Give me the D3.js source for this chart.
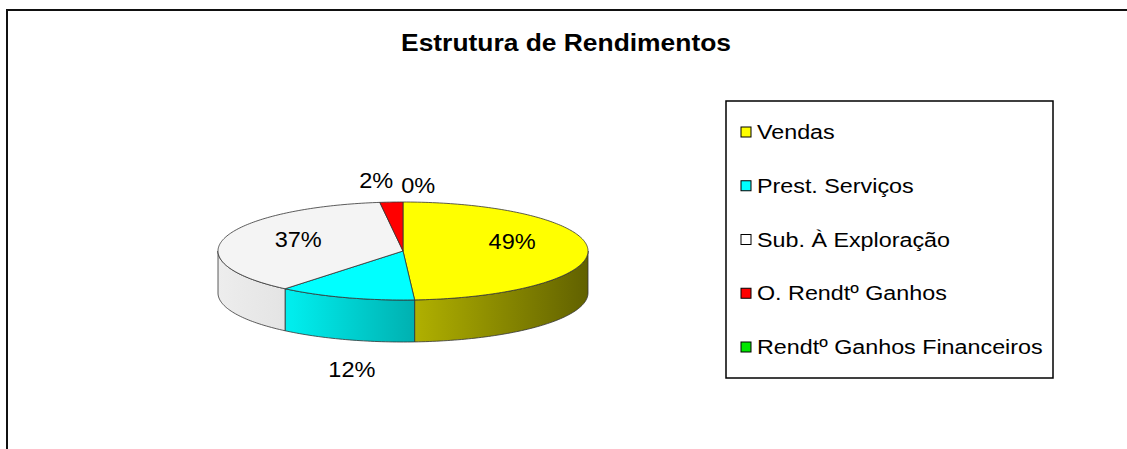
<!DOCTYPE html>
<html lang="pt">
<head>
  <meta charset="UTF-8">
  <title>Estrutura de Rendimentos</title>
  <script src="https://d3js.org/d3.v7.min.js"></script>
  <style>
    body { margin: 0; background: #fff; }
    text { font-family: "Liberation Sans", Arial, sans-serif; }
  </style>
</head>
<body>
<script>
  // data
  const categories = ["Vendas", "Prest. Serviços", "Sub. À Exploração", "O. Rendtº Ganhos", "Rendtº Ganhos Financeiros"];
  const values = [49, 12, 37, 2, 0];
  const chartTitle = "Estrutura de Rendimentos";

  // dimensions
  const width = 1127, height = 449;
  const cx = 403, cy = 251, rx = 185, ry = 49, depth = 42;
  const stretch = 1.1; // the original text is drawn a bit wider than Arial

  const color = d3.scaleOrdinal()
    .domain(categories)
    .range(["#ffff00", "#00ffff", "#f4f4f4", "#ff0000", "#00e600"]);

  const svg = d3.select("body").append("svg")
    .attr("width", width)
    .attr("height", height);

  // outer frame (left + top only visible)
  svg.append("path")
    .attr("d", "M7," + height + " V10 H" + width)
    .attr("fill", "none")
    .attr("stroke", "#111")
    .attr("stroke-width", 2);

  svg.append("text")
    .attr("transform", "translate(566,42) scale(" + stretch + ",1)")
    .attr("text-anchor", "middle")
    .attr("dominant-baseline", "central")
    .style("font-size", "24px")
    .style("font-weight", "bold")
    .text(chartTitle);

  const total = d3.sum(values);
  const arcs = d3.pie().sort(null).value(d => d)(values);

  // projected point on the ellipse for an angle measured clockwise from 12 o'clock
  const pt = (a, dy) => [cx + rx * Math.sin(a), cy - ry * Math.cos(a) + (dy || 0)];

  function ellipseRun(a0, a1, dy) {
    const n = Math.max(2, Math.ceil((a1 - a0) / 0.02));
    return d3.range(n + 1).map(i => pt(a0 + (a1 - a0) * i / n, dy));
  }

  // shading of the side walls: light on the left, dark on the right
  const defs = svg.append("defs");
  const shade = [[0, 0.97], [0.2, 0.93], [0.55, 0.68], [1, 0.38]];
  categories.forEach((c, i) => {
    const g = defs.append("linearGradient")
      .attr("id", "side" + i)
      .attr("gradientUnits", "userSpaceOnUse")
      .attr("x1", cx - rx).attr("x2", cx + rx)
      .attr("y1", 0).attr("y2", 0);
    const base = d3.rgb(color(c));
    shade.forEach(([t, f]) => {
      g.append("stop")
        .attr("offset", t)
        .attr("stop-color", d3.rgb(base.r * f, base.g * f, base.b * f).formatHex());
    });
  });

  const pie = svg.append("g");

  // side walls (front half only)
  arcs.forEach((d, i) => {
    const s = Math.max(d.startAngle, Math.PI / 2);
    const e = Math.min(d.endAngle, 3 * Math.PI / 2);
    if (s >= e) return;
    const pts = ellipseRun(s, e, 0).concat(ellipseRun(s, e, depth).reverse());
    pie.append("path")
      .attr("d", d3.line()(pts) + "Z")
      .attr("fill", "url(#side" + i + ")")
      .attr("stroke", "#333")
      .attr("stroke-width", 0.8)
      .attr("stroke-linejoin", "round");
  });

  // top faces
  arcs.forEach((d, i) => {
    if (d.endAngle - d.startAngle <= 0) return;
    const pts = [[cx, cy]].concat(ellipseRun(d.startAngle, d.endAngle, 0));
    pie.append("path")
      .attr("d", d3.line()(pts) + "Z")
      .attr("fill", color(categories[i]))
      .attr("stroke", "#333")
      .attr("stroke-width", 0.8)
      .attr("stroke-linejoin", "round");
  });

  // data labels
  const labels = arcs.map((d, i) => {
    const m = (d.startAngle + d.endAngle) / 2;
    const pct = Math.round(d.value / total * 100);
    if (pct >= 20) {
      return { text: pct + "%", x: cx + rx * 0.59 * Math.sin(m), y: cy - 10 - ry * 0.1 * Math.cos(m), out: false };
    }
    const [ex, ey] = pt(m, 0);
    const front = Math.cos(m) < 0;
    return { text: pct + "%", x: ex + (front ? 6 : 0), y: front ? ey + depth + 30 : ey - 20, out: true, front: front };
  });

  // spread outside labels that collide
  const back = labels.filter(l => l.out && !l.front).sort((a, b) => a.x - b.x);
  for (let i = 1; i < back.length; i++) {
    const gap = back[i].x - back[i - 1].x;
    if (gap < 42) {
      const mid = (back[i].x + back[i - 1].x) / 2;
      back[i - 1].x = mid - 21;
      back[i].x = mid + 21;
      back[i - 1].y -= 2;
      back[i].y += 3;
    }
  }

  svg.append("g").selectAll("text")
    .data(labels)
    .join("text")
    .attr("transform", d => "translate(" + d.x + "," + d.y + ") scale(1.07,1)")
    .attr("text-anchor", "middle")
    .attr("dominant-baseline", "central")
    .style("font-size", "22px")
    .attr("fill", "#000")
    .text(d => d.text);

  // legend
  const legend = svg.append("g");
  legend.append("rect")
    .attr("x", 726).attr("y", 101)
    .attr("width", 327).attr("height", 277)
    .attr("fill", "#fff")
    .attr("stroke", "#000")
    .attr("stroke-width", 1.5);

  const ly = d3.scalePoint().domain(categories).range([132, 347]);

  const item = legend.selectAll("g.item")
    .data(categories)
    .join("g")
    .attr("class", "item")
    .attr("transform", d => "translate(741," + ly(d) + ")");

  item.append("rect")
    .attr("x", 0).attr("y", -5)
    .attr("width", 10).attr("height", 10)
    .attr("fill", d => color(d) === "#f4f4f4" ? "#fff" : color(d))
    .attr("stroke", "#000")
    .attr("stroke-width", 1);

  item.append("text")
    .attr("transform", "translate(16,0) scale(1.11,1)")
    .attr("dominant-baseline", "central")
    .style("font-size", "21px")
    .text(d => d);
</script>
</body>
</html>
